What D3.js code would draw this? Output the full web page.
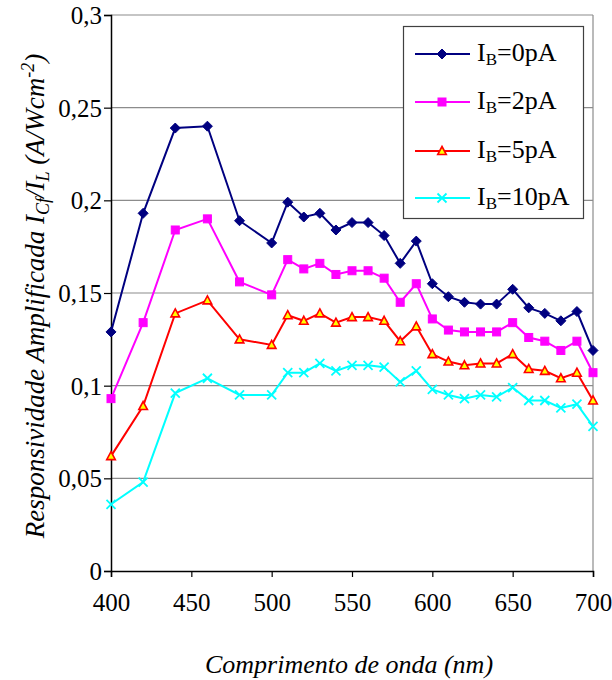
<!DOCTYPE html>
<html>
<head>
<meta charset="utf-8">
<script src="https://cdn.jsdelivr.net/npm/d3@7"></script>
<style>
html,body{margin:0;padding:0;background:#fff;}
svg{display:block;}
</style>
</head>
<body>
<svg id="chart" width="612" height="680"></svg>
<script>
const wavelengths = [400,420,440,460,480,500,510,520,530,540,550,560,570,580,590,600,610,620,630,640,650,660,670,680,690,700];
const ib0  = [0.129,0.193,0.239,0.240,0.189,0.177,0.199,0.191,0.193,0.184,0.188,0.188,0.181,0.166,0.178,0.155,0.148,0.145,0.144,0.144,0.152,0.142,0.139,0.135,0.140,0.119];
const ib2  = [0.093,0.134,0.184,0.190,0.156,0.149,0.168,0.163,0.166,0.160,0.162,0.162,0.158,0.145,0.155,0.136,0.130,0.129,0.129,0.129,0.134,0.126,0.124,0.119,0.124,0.107];
const ib5  = [0.062,0.089,0.139,0.146,0.125,0.122,0.138,0.135,0.139,0.134,0.137,0.137,0.135,0.124,0.132,0.117,0.113,0.111,0.112,0.112,0.117,0.109,0.108,0.104,0.107,0.092];
const ib10 = [0.036,0.048,0.096,0.104,0.095,0.095,0.107,0.107,0.112,0.108,0.111,0.111,0.110,0.102,0.108,0.098,0.095,0.093,0.095,0.094,0.099,0.092,0.092,0.088,0.090,0.078];
const seriesNames = ["0pA","2pA","5pA","10pA"];
const xTicks = [400,450,500,550,600,650,700];
const yTicks = [0,0.05,0.1,0.15,0.2,0.25,0.3];
const yTickLabels = ["0","0,05","0,1","0,15","0,2","0,25","0,3"];

const FONT = "Liberation Serif";

const series = [
  {name: seriesNames[0], values: ib0,  color: "#000080", marker: "diamond"},
  {name: seriesNames[1], values: ib2,  color: "#FF00FF", marker: "square"},
  {name: seriesNames[2], values: ib5,  color: "#FF0000", marker: "triangle"},
  {name: seriesNames[3], values: ib10, color: "#00FFFF", marker: "x"}
];

const svg = d3.select("#chart");
const L = 111, R = 593, T = 15, B = 571;
const x = d3.scaleLinear().domain([400,700]).range([L,R]);
const y = d3.scaleLinear().domain([0,0.3]).range([B,T]);

// gridlines
svg.append("g").selectAll("line").data(yTicks.filter(d=>d>0)).join("line")
  .attr("x1",L).attr("x2",R).attr("y1",d=>y(d)).attr("y2",d=>y(d))
  .attr("stroke","#8c8c8c").attr("stroke-width",1.2);
// right border
svg.append("line").attr("x1",R).attr("x2",R).attr("y1",T).attr("y2",B)
  .attr("stroke","#8c8c8c").attr("stroke-width",1.2);

// axes
const yAxis = d3.axisLeft(y).tickValues(yTicks).tickSize(7).tickPadding(2)
  .tickFormat((d,i)=>yTickLabels[i]);
const gy = svg.append("g").attr("transform",`translate(${L},0)`).call(yAxis)
  .attr("font-family", FONT).attr("font-size",25);
gy.select(".domain").attr("stroke","#000").attr("stroke-width",1.5);
gy.selectAll(".tick line").attr("stroke","#000").attr("stroke-width",1.2);
gy.selectAll(".tick text").style("font-family",FONT).style("font-size","25px").attr("fill","#000")
  .attr("dy","0.34em");

const xAxis = d3.axisBottom(x).tickValues(xTicks).tickSize(6).tickPadding(16)
  .tickFormat(d3.format("d"));
const gx = svg.append("g").attr("transform",`translate(0,${B})`).call(xAxis)
  .attr("font-family", FONT).attr("font-size",25);
gx.select(".domain").attr("stroke","#000").attr("stroke-width",1.5);
gx.selectAll(".tick line").attr("stroke","#000").attr("stroke-width",1.2);
gx.selectAll(".tick text").style("font-family",FONT).style("font-size","25px").attr("fill","#000");

// markers
function drawMarker(g, type, color, cx, cy) {
  if (type === "diamond") {
    g.append("path").attr("d",`M${cx},${cy-5}L${cx+5},${cy}L${cx},${cy+5}L${cx-5},${cy}Z`)
      .attr("fill",color).attr("stroke",color).attr("stroke-width",1);
  } else if (type === "square") {
    g.append("rect").attr("x",cx-4).attr("y",cy-4).attr("width",8).attr("height",8)
      .attr("fill",color).attr("stroke",color).attr("stroke-width",1);
  } else if (type === "triangle") {
    g.append("path").attr("d",`M${cx},${cy-4.5}L${cx+4.3},${cy+3.5}L${cx-4.3},${cy+3.5}Z`)
      .attr("fill","#FFFF00").attr("stroke",color).attr("stroke-width",1.6);
  } else if (type === "x") {
    g.append("path").attr("d",`M${cx-4.5},${cy-4.5}L${cx+4.5},${cy+4.5}M${cx-4.5},${cy+4.5}L${cx+4.5},${cy-4.5}`)
      .attr("stroke",color).attr("stroke-width",1.8).attr("fill","none");
  }
}

const line = d3.line().x((d,i)=>x(wavelengths[i])).y(d=>y(d));
series.forEach(s => {
  const g = svg.append("g");
  g.append("path").datum(s.values).attr("d",line).attr("fill","none")
    .attr("stroke",s.color).attr("stroke-width",2);
  s.values.forEach((v,i)=>drawMarker(g, s.marker, s.color, x(wavelengths[i]), y(v)));
});

// legend
const lg = svg.append("g");
lg.append("rect").attr("x",403.5).attr("y",26.5).attr("width",180).attr("height",192)
  .attr("fill","#fff").attr("stroke","#404040").attr("stroke-width",1.2);
const rowY = [54,102,151,198];
series.forEach((s,i) => {
  const cy = rowY[i];
  lg.append("line").attr("x1",415).attr("x2",470).attr("y1",cy).attr("y2",cy)
    .attr("stroke",s.color).attr("stroke-width",2);
  drawMarker(lg, s.marker, s.color, 442, cy);
  const t = lg.append("text").attr("x",477).attr("y",cy+7)
    .style("font-family",FONT).style("font-size","26px");
  t.append("tspan").text("I");
  t.append("tspan").style("font-size","17px").attr("dy",4).text("B");
  t.append("tspan").attr("dy",-4).text("=" + s.name);
});

// axis titles
svg.append("text").attr("x",349).attr("y",673).attr("text-anchor","middle")
  .style("font-family",FONT).style("font-style","italic").style("font-size","26px")
  .text("Comprimento de onda (nm)");

const yt = svg.append("text").attr("transform","translate(44,296) rotate(-90)")
  .attr("text-anchor","middle")
  .style("font-family",FONT).style("font-style","italic").style("font-size","27px");
yt.append("tspan").text("Responsividade Amplificada I");
yt.append("tspan").style("font-size","18px").attr("dy",5).text("Cf");
yt.append("tspan").attr("dy",-5).text("/I");
yt.append("tspan").style("font-size","18px").attr("dy",5).text("L");
yt.append("tspan").attr("dy",-5).text(" (A/Wcm");
yt.append("tspan").style("font-size","18px").attr("dy",-10).text("-2");
yt.append("tspan").attr("dy",10).text(")");
</script>
</body>
</html>
